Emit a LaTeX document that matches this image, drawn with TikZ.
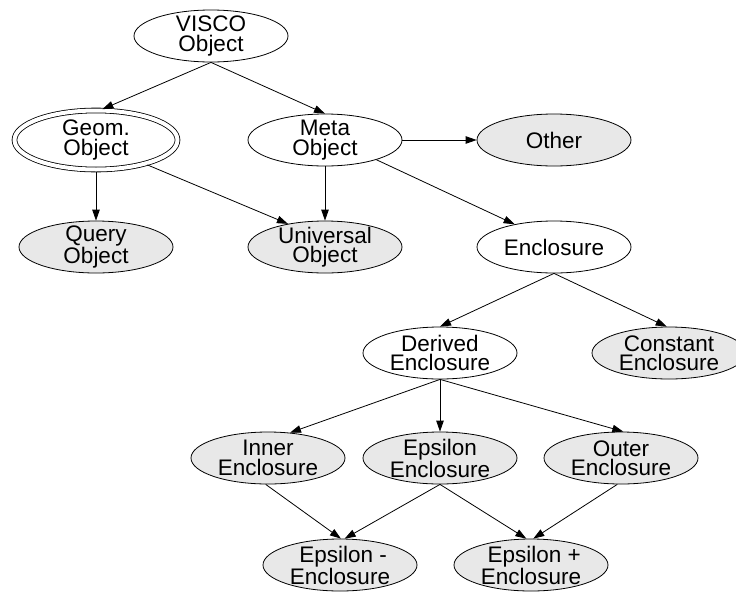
\documentclass[tikz,border=0pt]{standalone}
\usepackage{fontspec}
\setmainfont{Liberation Sans}
\usetikzlibrary{shapes.geometric,arrows.meta}
\definecolor{leafgray}{RGB}{232,232,232}
\begin{document}
\begin{tikzpicture}[x=1pt,y=-1pt,
  cls/.style={ellipse,draw,line width=0.8pt,minimum width=154pt,minimum height=52pt,
    inner xsep=0pt,inner ysep=-8pt,align=center,font=\fontsize{22.5}{19.5}\selectfont},
  leaf/.style={cls,fill=leafgray},
  abstract/.style={cls,double,double distance=4pt,minimum width=163pt,minimum height=59pt},
  link/.style={line width=0.8pt,-{Triangle[length=11pt,width=7.5pt]}}]
\useasboundingbox (0,0) rectangle (736,592);

% class nodes
\node[cls]      (visco)    at (211,36)  {VISCO\\Object};
\node[abstract] (geom)     at (96,140)  {Geom.\\Object};
\node[cls]      (meta)     at (325,140) {Meta\\Object};
\node[leaf]     (other)    at (554,140) {Other};
\node[leaf]     (query)    at (96,247)  {Query\\Object};
\node[leaf]     (univ)     at (325,247) {Universal\\Object};
\node[cls]      (encl)     at (554,247) {Enclosure};
\node[cls]      (derived)  at (440,353) {Derived\\Enclosure};
\node[leaf]     (constant) at (669,353) {Constant\\Enclosure};
\node[leaf]     (inner)    at (268,458) {Inner\\Enclosure};
\node[leaf]     (epsilon)  at (440,458) {Epsilon\\Enclosure};
\node[leaf]     (outer)    at (621,458) {Outer\\Enclosure};
\node[leaf]     (epsminus) at (340,565) {\ Epsilon -\\Enclosure};
\node[leaf]     (epsplus)  at (531,565) {\ Epsilon +\\Enclosure};

% inheritance links
\draw[link,shorten >=2.4pt] (visco.south) -- (geom.82);
\draw[link] (visco.south) -- (meta.north);
\draw[link,shorten <=2.4pt] (geom.south) -- (query.north);
\draw[link,shorten <=2.4pt] (geom.-26) -- (univ.148);
\draw[link] (meta.south) -- (univ.north);
\draw[link] (meta.east) -- (other.west);
\draw[link] (meta.-21) -- (encl.150);
\draw[link] (encl.south) -- (derived.north);
\draw[link] (encl.south) -- (constant.95);
\draw[link] (derived.south) -- (inner.49);
\draw[link] (derived.south) -- (epsilon.north);
\draw[link] (derived.south) -- (outer.85);
\draw[link] (inner.-95) -- (epsminus.88);
\draw[link] (epsilon.south) -- (epsminus.80);
\draw[link] (epsilon.south) -- (epsplus.100);
\draw[link] (outer.-98) -- (epsplus.85);
\end{tikzpicture}
\end{document}
